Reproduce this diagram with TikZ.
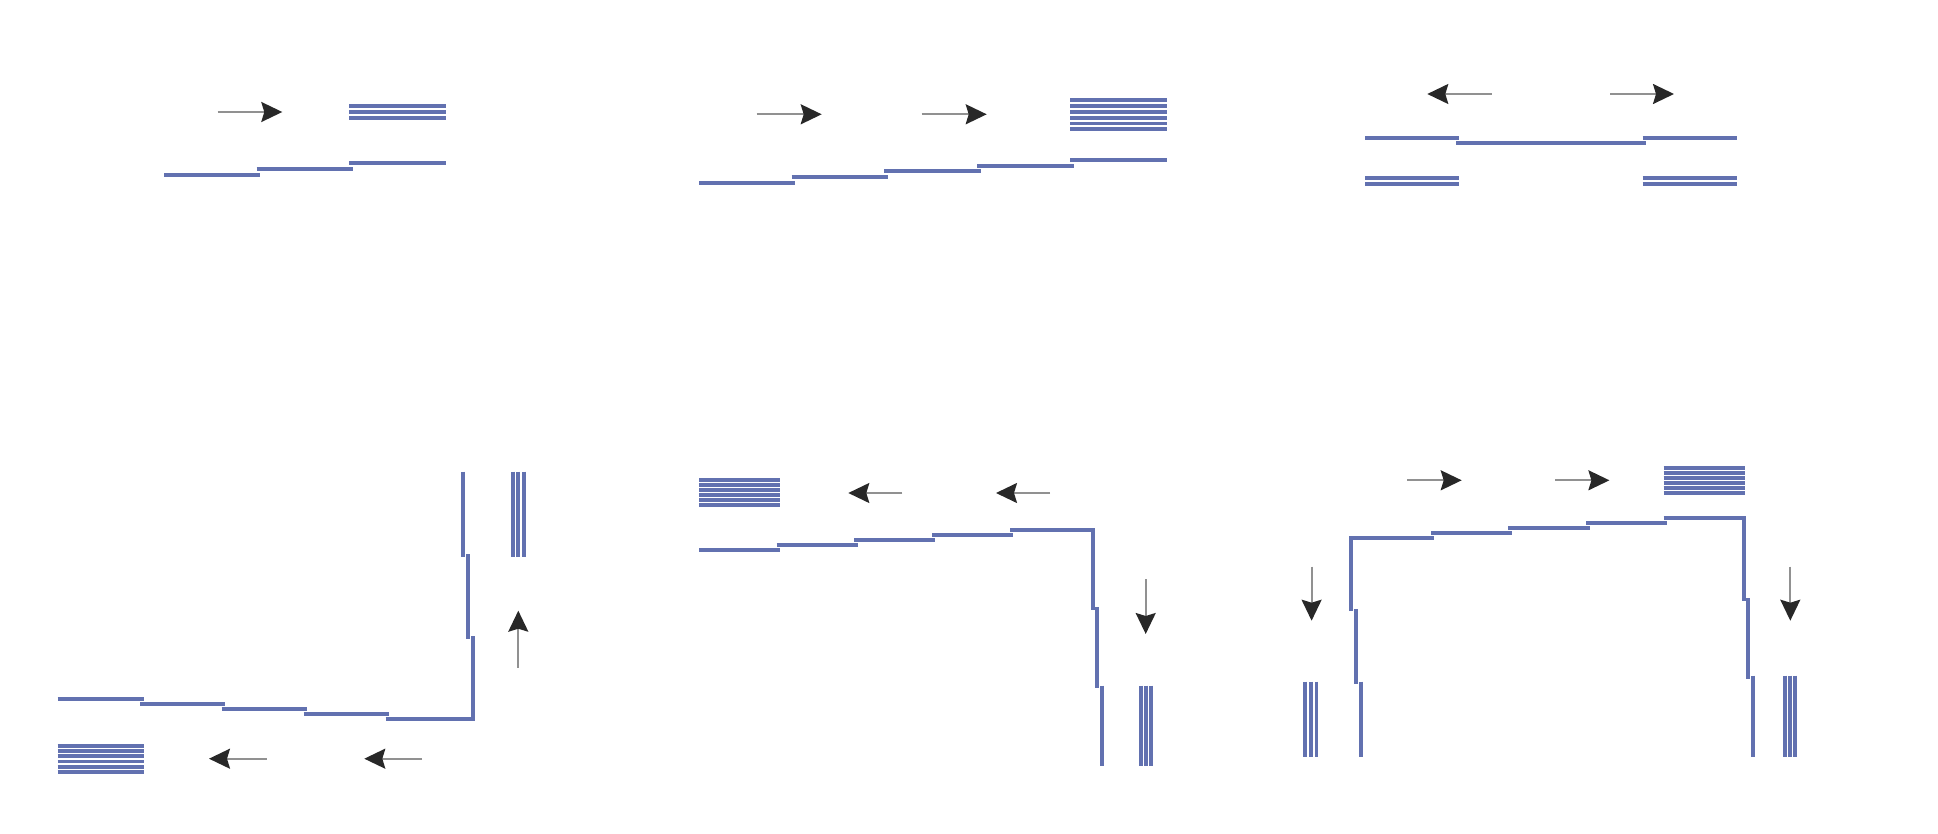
\documentclass[tikz,border=0pt]{standalone}
\usetikzlibrary{arrows.meta}
\definecolor{strandblue}{RGB}{98,113,176}
\definecolor{shaftgray}{RGB}{145,145,145}
\definecolor{tipdark}{RGB}{40,40,40}
\tikzset{
  strand/.style={draw=strandblue, line width=3.8pt, line cap=butt, line join=miter},
  arr/.style={draw=shaftgray, line width=2pt, -{Stealth[length=21pt,width=20pt,inset=3pt,color=tipdark]}}
}
\begin{document}
\begin{tikzpicture}[x=1pt,y=-1pt]
\useasboundingbox (0,0) rectangle (1938,834);
% ---------- Panel 1 ----------
\draw[arr] (217.7,112) -- (282.3,112);
\foreach \y in {106,112,117.8} \draw[strand] (349,\y) -- (445.7,\y);
\draw[strand] (164,175.3) -- (260.3,175.3);
\draw[strand] (256.7,169.3) -- (353,169.3);
\draw[strand] (349,163.3) -- (445.7,163.3);
% ---------- Panel 2 ----------
\draw[arr] (756.7,114.3) -- (821.7,114.3);
\draw[arr] (921.7,114.3) -- (986.7,114.3);
\foreach \i in {0,...,5} \draw[strand] (1070,100+5.87*\i) -- (1166.7,100+5.87*\i);
\draw[strand] (699,183.3) -- (795.3,183.3);
\draw[strand] (791.7,177.3) -- (888,177.3);
\draw[strand] (884.3,171.3) -- (980.7,171.3);
\draw[strand] (977.3,165.7) -- (1073.7,165.7);
\draw[strand] (1070,160) -- (1166.7,160);
% ---------- Panel 3 ----------
\draw[arr] (1491.7,94) -- (1427.3,94);
\draw[arr] (1610,94) -- (1674,94);
\draw[strand] (1365,137.7) -- (1459.3,137.7);
\draw[strand] (1456,143.3) -- (1646,143.3);
\draw[strand] (1642.7,137.7) -- (1737.3,137.7);
\foreach \y in {178,184} {
  \draw[strand] (1365,\y) -- (1459.3,\y);
  \draw[strand] (1642.7,\y) -- (1737.3,\y);
}
% ---------- Panel 4 ----------
\draw[strand] (462.7,471.7) -- (462.7,556.7);
\draw[strand] (467.7,554) -- (467.7,639);
\draw[strand] (385.7,719) -- (472.7,719) -- (472.7,635.7);
\draw[strand] (57.7,698.7) -- (143.7,698.7);
\draw[strand] (140,703.7) -- (225.3,703.7);
\draw[strand] (221.7,709) -- (307.3,709);
\draw[strand] (303.7,714) -- (389,714);
\foreach \i in {0,...,5} \draw[strand] (57.7,745.7+5.27*\i) -- (143.7,745.7+5.27*\i);
\draw[arr] (266.7,758.7) -- (209,758.7);
\draw[arr] (422,758.7) -- (364.3,758.7);
\draw[arr] (518.3,667.7) -- (518.3,610.7);
\foreach \x in {512.7,518.3,524} \draw[strand] (\x,471.7) -- (\x,556.7);
% ---------- Panel 5 ----------
\foreach \i in {0,...,5} \draw[strand] (699,480+5*\i) -- (780.3,480+5*\i);
\draw[arr] (902.3,493) -- (848.3,493);
\draw[arr] (1050,493) -- (996,493);
\draw[strand] (699,550) -- (780.3,550);
\draw[strand] (776.7,545.3) -- (857.7,545.3);
\draw[strand] (854.3,540.3) -- (935.3,540.3);
\draw[strand] (932,535.3) -- (1013,535.3);
\draw[strand] (1010,530.3) -- (1093.3,530.3) -- (1093.3,610);
\draw[strand] (1097.3,607.3) -- (1097.3,688.3);
\draw[strand] (1102.3,685.7) -- (1102.3,766);
\foreach \x in {1140.7,1145.7,1150.7} \draw[strand] (\x,685.7) -- (\x,766);
\draw[arr] (1145.7,579.3) -- (1145.7,634);
% ---------- Panel 6 ----------
\draw[arr] (1407.3,480.3) -- (1461.7,480.3);
\draw[arr] (1555.3,480.3) -- (1609.4,480.3);
\foreach \i in {0,...,5} \draw[strand] (1663.5,467.7+5*\i) -- (1744.6,467.7+5*\i);
\draw[strand] (1350.8,611) -- (1350.8,537.7) -- (1434.3,537.7);
\draw[strand] (1431,532.7) -- (1511.7,532.7);
\draw[strand] (1508.4,527.7) -- (1589.5,527.7);
\draw[strand] (1586.1,523) -- (1666.9,523);
\draw[strand] (1663.5,517.7) -- (1743.6,517.7) -- (1743.6,601);
\draw[strand] (1748,598.3) -- (1748,679);
\draw[strand] (1753.1,675.7) -- (1753.1,756.7);
\draw[strand] (1355.9,609) -- (1355.9,684.3);
\draw[strand] (1361,681.7) -- (1361,756.7);
\foreach \x in {1305.2,1311,1316.4} \draw[strand] (\x,681.7) -- (\x,756.7);
\foreach \x in {1785.2,1790.3,1795.3} \draw[strand] (\x,675.7) -- (\x,756.7);
\draw[arr] (1311.6,566.7) -- (1311.6,620.7);
\draw[arr] (1790.3,566.7) -- (1790.3,620.7);
\end{tikzpicture}
\end{document}
